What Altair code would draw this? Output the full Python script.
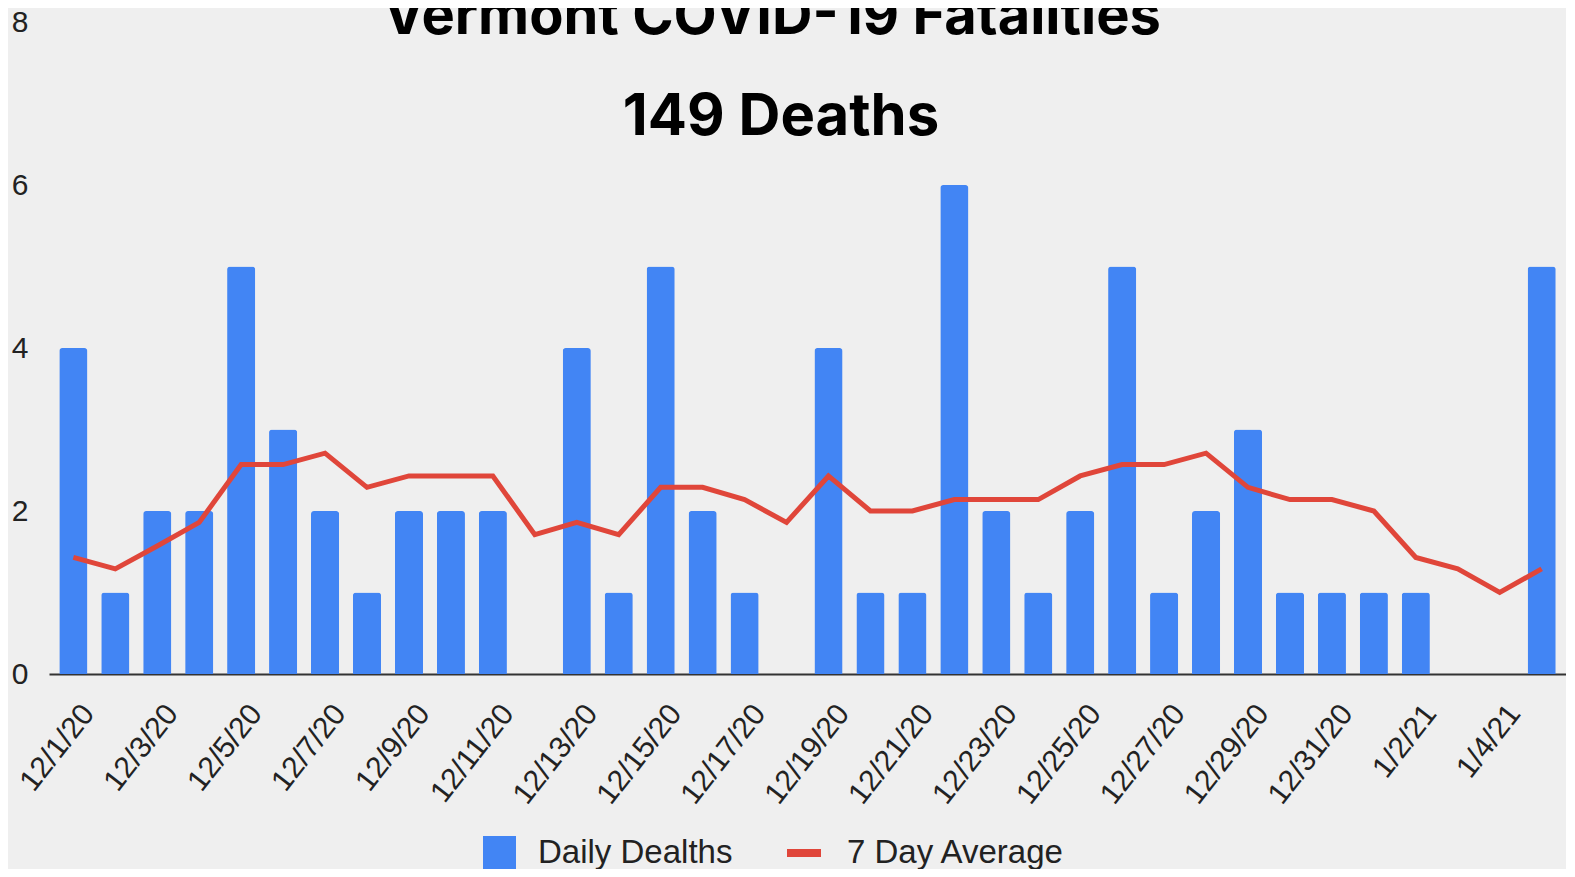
import altair as alt
import pandas as pd

dates = ["12/1/20", "12/2/20", "12/3/20", "12/4/20", "12/5/20", "12/6/20", "12/7/20",
         "12/8/20", "12/9/20", "12/10/20", "12/11/20", "12/12/20", "12/13/20", "12/14/20",
         "12/15/20", "12/16/20", "12/17/20", "12/18/20", "12/19/20", "12/20/20", "12/21/20",
         "12/22/20", "12/23/20", "12/24/20", "12/25/20", "12/26/20", "12/27/20", "12/28/20",
         "12/29/20", "12/30/20", "12/31/20", "1/1/21", "1/2/21", "1/3/21", "1/4/21", "1/5/21"]
daily_deaths = [4, 1, 2, 2, 5, 3, 2, 1, 2, 2, 2, 0, 4, 1, 5, 2, 1, 0, 4, 1, 1, 6, 2, 1,
                2, 5, 1, 2, 3, 1, 1, 1, 1, 0, 0, 5]
seven_day_avg = [1.43, 1.29, 1.57, 1.86, 2.57, 2.57, 2.71, 2.29, 2.43, 2.43, 2.43, 1.71,
                 1.86, 1.71, 2.29, 2.29, 2.14, 1.86, 2.43, 2.0, 2.0, 2.14, 2.14, 2.14,
                 2.43, 2.57, 2.57, 2.71, 2.29, 2.14, 2.14, 2.0, 1.43, 1.29, 1.0, 1.29]
tick_labels = ["12/1/20", "12/3/20", "12/5/20", "12/7/20", "12/9/20", "12/11/20",
               "12/13/20", "12/15/20", "12/17/20", "12/19/20", "12/21/20", "12/23/20",
               "12/25/20", "12/27/20", "12/29/20", "12/31/20", "1/2/21", "1/4/21"]
y_ticks = [0, 2, 4, 6, 8]
series_names = ["Daily Dealths", "7 Day Average"]
title_text = "Vermont COVID-19 Fatalities"
subtitle_text = "149 Deaths"

BLUE = "#4285F4"
RED = "#E0463A"
BG = "#efefef"
FONT = "Liberation Sans"

df = pd.DataFrame({
    "date": dates,
    "deaths": daily_deaths,
    "avg": seven_day_avg,
    "s1": [series_names[0]] * len(dates),
    "s2": [series_names[1]] * len(dates),
})

x_enc = alt.X(
    "date:N", sort=dates, title=None,
    scale=alt.Scale(paddingInner=0.33, paddingOuter=0.245),
    axis=alt.Axis(values=tick_labels, labelAngle=-52, labelAlign="right",
                  labelBaseline="middle", labelFontSize=30, labelFont=FONT,
                  labelColor="#222", labelPadding=34, labelOffset=15, ticks=False,
                  domainColor="#333", domainWidth=2, grid=False, labelOverlap=False),
)
y_scale = alt.Scale(domain=[0, 8], nice=False)

legend_common = dict(orient="none", title=None, labelFontSize=33,
                     labelFont=FONT, labelColor="#222", labelOffset=22, labelLimit=0,
                     padding=0)

bars = alt.Chart(df).mark_bar(cornerRadiusTopLeft=3, cornerRadiusTopRight=3).encode(
    x=x_enc,
    y=alt.Y("deaths:Q", scale=y_scale, title=None,
            axis=alt.Axis(values=y_ticks, format="d", labelFontSize=30, labelFont=FONT,
                          labelColor="#222", labelPadding=21, domain=False,
                          ticks=False, grid=False)),
    fill=alt.Fill("s1:N", scale=alt.Scale(domain=[series_names[0]], range=[BLUE]),
                  legend=alt.Legend(legendX=434, legendY=814, symbolType="square",
                                    symbolSize=1089, symbolStrokeWidth=0,
                                    **legend_common)),
)

line = alt.Chart(df).mark_line(strokeWidth=5).encode(
    x=alt.X("date:N", sort=dates),
    y=alt.Y("avg:Q", scale=y_scale),
    stroke=alt.Stroke("s2:N", scale=alt.Scale(domain=[series_names[1]], range=[RED]),
                      legend=alt.Legend(legendX=734, legendY=810, symbolType="stroke",
                                        symbolSize=1156, symbolStrokeWidth=8,
                                        **legend_common)),
)

title1 = alt.Chart(pd.DataFrame({"t": [title_text]})).mark_text(
    font="Inter", fontWeight="bold", fontSize=56, align="center", baseline="alphabetic",
    color="#000").encode(text="t:N", x=alt.value(723), y=alt.value(12))
title2 = alt.Chart(pd.DataFrame({"t": [subtitle_text]})).mark_text(
    font="Inter", fontWeight="bold", fontSize=58, align="center", baseline="alphabetic",
    color="#000").encode(text="t:N", x=alt.value(732), y=alt.value(113))

chart = alt.layer(bars, line, title1, title2).properties(
    width=1517, height=652,
    padding={"left": 41, "top": 14, "right": 0, "bottom": 195},
    autosize=alt.AutoSizeParams(type="none"),
    background=BG,
).configure_view(stroke=None)

chart.save("out.html", embed_options={"renderer": "svg", "actions": False})
